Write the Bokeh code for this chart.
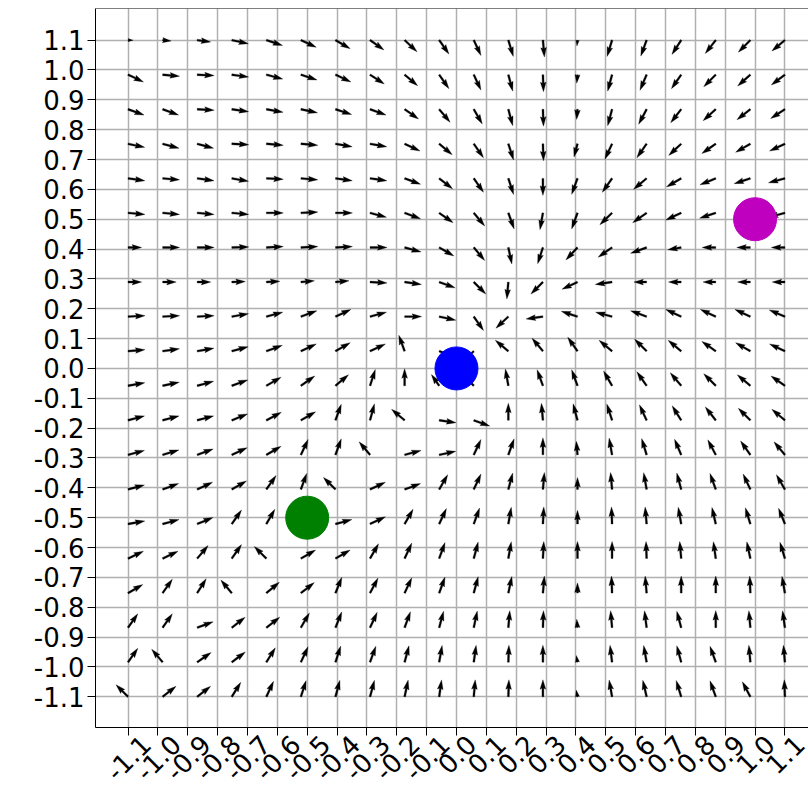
import numpy as np
from bokeh.plotting import figure
from bokeh.models import FixedTicker, Span, LinearAxis
from bokeh.embed import file_html
from bokeh.resources import INLINE

# arrow tail positions (20 x 20 grid)
grid_x = [-1.1, -0.9842, -0.8684, -0.7526, -0.6368, -0.5211, -0.4053, -0.2895, -0.1737, -0.0579,
          0.0579, 0.1737, 0.2895, 0.4053, 0.5211, 0.6368, 0.7526, 0.8684, 0.9842, 1.1]
grid_y = [1.1, 0.9842, 0.8684, 0.7526, 0.6368, 0.5211, 0.4053, 0.2895, 0.1737, 0.0579,
          -0.0579, -0.1737, -0.2895, -0.4053, -0.5211, -0.6368, -0.7526, -0.8684, -0.9842, -1.1]

# arrow directions in degrees (row = grid_y, column = grid_x)
angles_deg = [
    [0, -5, -8, -12, -18, -25, -30, -35, -43, -55, -65, -73, -85, -95, -107, -110, -123, -128, -135, -140],
    [-25, -5, -3, -8, -15, -18, -25, -33, -40, -55, -65, -75, -88, -95, -105, -113, -125, -135, -138, -143],
    [-20, -20, -3, -8, -10, -12, -18, -20, -35, -50, -60, -75, -88, -95, -105, -118, -128, -138, -142, -147],
    [-12, -15, -15, -3, -5, -5, -10, -10, -25, -40, -55, -72, -88, -105, -115, -125, -137, -145, -150, -155],
    [-8, -5, -8, -10, -3, -5, -8, -8, -20, -38, -55, -72, -90, -110, -125, -140, -150, -158, -162, -165],
    [-5, -5, -5, -5, 0, 3, 0, -15, -20, -35, -50, -70, -100, -110, -136, -145, -155, -162, -165, -165],
    [0, 0, 0, 2, 3, 3, 3, 0, -15, -30, -50, -78, -108, -133, -145, -160, -170, 180, 180, 180],
    [0, 0, 0, 2, 3, 5, 5, -3, -8, -20, -45, -95, -135, -155, -172, 180, 180, 180, 180, 180],
    [3, 3, 3, 10, 15, 20, 25, 15, 0, -12, -55, -137, -172, 162, 165, 160, 155, 155, 155, 157],
    [5, 8, 10, 15, 20, 25, 30, 25, 110, -20, -135, 140, 130, 125, 140, 135, 140, 145, 150, 155],
    [10, 12, 15, 20, 30, 35, 40, 72, 90, 125, 135, 100, 110, 110, 120, 125, 130, 135, 140, 145],
    [15, 15, 15, 22, 28, 30, 70, 75, 140, -8, -20, 90, 95, 105, 108, 115, 122, 128, 135, 140],
    [15, 17, 20, 25, 30, 65, 70, 130, 15, 12, 65, 70, 90, 95, 100, 107, 113, 118, 125, 130],
    [15, 20, 25, 30, 55, 70, 135, 25, 20, 60, 65, 75, 85, 90, 95, 100, 105, 110, 115, 120],
    [10, 15, 22, 55, 60, 45, 15, 25, 60, 65, 70, 80, 87, 90, 92, 95, 100, 103, 107, 112],
    [25, 25, 50, 55, 135, 30, 30, 60, 65, 70, 75, 80, 87, 90, 90, 92, 95, 98, 102, 107],
    [30, 55, 58, 130, 40, 38, 68, 62, 65, 70, 75, 78, 85, 90, 92, 95, 90, 90, 92, 100],
    [55, 55, 20, 38, 38, 60, 68, 65, 70, 75, 78, 85, 88, 95, 95, 97, 105, 90, 95, 98],
    [55, 130, 35, 37, 58, 65, 72, 70, 75, 80, 82, 88, 90, 100, 97, 100, 105, 110, 95, 95],
    [135, 38, 38, 58, 65, 72, 75, 75, 78, 82, 85, 88, 90, 100, 100, 103, 107, 110, 118, 92],
]

# relative arrow lengths
magnitudes = [
    [0.3, 0.5, 0.8, 1, 1, 1, 1, 1, 1, 1, 1, 1, 1, 0.35, 1, 1, 1, 1, 1, 1],
    [1, 1, 1, 1, 1, 1, 1, 1, 1, 1, 1, 1, 1, 0.5, 1, 1, 1, 1, 1, 1],
    [1, 1, 1, 1, 1, 1, 1, 1, 1, 1, 1, 1, 1, 0.6, 1, 1, 1, 1, 1, 1],
    [1, 1, 1, 1, 1, 1, 1, 1, 1, 1, 1, 1, 1, 0.8, 1, 1, 1, 1, 1, 1],
    [1, 1, 1, 1, 1, 1, 1, 1, 1, 1, 1, 1, 1, 1, 1, 1, 1, 1, 1, 1],
    [1, 1, 1, 1, 1, 1, 1, 1, 1, 1, 1, 1, 1, 1, 1, 1, 1, 1, 1, 1],
    [0.8, 1, 1, 1, 1, 1, 1, 1, 1, 1, 1, 1, 1, 1, 1, 1, 0.8, 0.8, 0.8, 0.8],
    [0.8, 0.8, 0.8, 0.8, 0.8, 0.8, 0.8, 1, 1, 1, 1, 1, 1, 1, 1, 0.75, 0.75, 0.75, 0.75, 0.75],
    [1, 1, 1, 1, 1, 1, 1, 1, 1, 1, 1, 1, 1, 1, 1, 1, 1, 1, 1, 1],
    [1, 1, 1, 1, 1, 1, 1, 1, 1, 1, 1, 1, 1, 1, 1, 1, 1, 1, 1, 1],
    [1, 1, 1, 1, 1, 1, 1, 1, 1, 0.8, 1, 1, 1, 1, 1, 1, 1, 1, 1, 1],
    [1, 1, 1, 1, 1, 1, 1, 1, 1, 1, 1, 1, 1, 1, 1, 1, 1, 1, 1, 1],
    [1, 1, 1, 1, 1, 1, 1, 1, 1, 1, 1, 1, 1, 0.8, 1, 1, 1, 1, 1, 1],
    [1, 1, 1, 1, 1, 1, 1, 1, 1, 1, 1, 1, 1, 0.7, 1, 1, 1, 1, 1, 1],
    [1, 1, 1, 1, 1, 1, 1, 1, 1, 1, 1, 1, 1, 0.8, 1, 1, 1, 1, 1, 1],
    [1, 1, 1, 1, 1, 1, 1, 1, 1, 1, 1, 1, 1, 1, 1, 1, 1, 1, 1, 1],
    [1, 1, 1, 1, 1, 1, 1, 1, 1, 1, 1, 1, 1, 0.6, 1, 1, 1, 1, 1, 1],
    [1, 1, 1, 1, 1, 1, 1, 1, 1, 1, 1, 1, 1, 0.5, 1, 1, 1, 1, 1, 1],
    [1, 1, 1, 1, 1, 1, 1, 1, 1, 1, 1, 1, 1, 0.4, 1, 1, 1, 1, 1, 1],
    [1, 1, 1, 1, 1, 1, 1, 1, 1, 1, 1, 1, 1, 0.4, 1, 1, 1, 1, 1, 1],
]

# the three marked points
points_x = [0.0, -0.5, 1.0]
points_y = [0.0, -0.5, 0.5]
points_color = ["#0000ff", "#008000", "#bf00bf"]

tick_values = [-1.1, -1.0, -0.9, -0.8, -0.7, -0.6, -0.5, -0.4, -0.3, -0.2, -0.1, 0.0,
               0.1, 0.2, 0.3, 0.4, 0.5, 0.6, 0.7, 0.8, 0.9, 1.0, 1.1]
tick_labels = ["-1.1", "-1.0", "-0.9", "-0.8", "-0.7", "-0.6", "-0.5", "-0.4", "-0.3", "-0.2", "-0.1", "0.0",
               "0.1", "0.2", "0.3", "0.4", "0.5", "0.6", "0.7", "0.8", "0.9", "1.0", "1.1"]

W_PX, H_PX = 808, 795
BORDER_L, BORDER_T, BORDER_B = 95, 8, 68
X_RANGE = (-1.209, 1.179)
Y_RANGE = (-1.203, 1.206)
FONT = "DejaVu Sans"
FS_PX = 26
FS = f"{FS_PX}px"

# ---- arrow polygons (quiver style, tail pivot) ----
L0 = 0.057      # data length of a unit arrow
W = 0.0064      # shaft width in data units
HW, HL, HAL = 3.0, 5.0, 4.5
xs, ys = [], []
for r, yv in enumerate(grid_y):
    for c, xv in enumerate(grid_x):
        ang = np.deg2rad(angles_deg[r][c])
        lu = L0 * magnitudes[r][c] / W
        shrink = 1.0
        if lu < HL:
            shrink = lu / HL
            lu = HL
        px = np.array([0, lu - HAL, lu - HL, lu, lu - HL, lu - HAL, 0]) * W * shrink
        py = np.array([0.5, 0.5, HW / 2, 0, -HW / 2, -0.5, -0.5]) * W * shrink
        ca, sa = np.cos(ang), np.sin(ang)
        xs.append(list(xv + px * ca - py * sa))
        ys.append(list(yv + px * sa + py * ca))

p = figure(width=W_PX, height=H_PX, x_range=X_RANGE, y_range=Y_RANGE,
           output_backend="svg", toolbar_location=None,
           min_border_left=BORDER_L, min_border_right=0, min_border_top=BORDER_T,
           min_border_bottom=BORDER_B)
p.outline_line_color = None

for ax in (p.xaxis[0], p.yaxis[0]):
    ax.ticker = FixedTicker(ticks=tick_values)
    ax.major_tick_out = 8
    ax.major_tick_in = 0
    ax.minor_tick_line_color = None
    ax.axis_line_color = "black"
    ax.major_tick_line_color = "black"
    ax.major_label_text_color = "black"
    ax.major_label_text_font = FONT
    ax.major_label_text_font_size = FS

p.yaxis.major_label_overrides = dict(zip(tick_values, tick_labels))
p.yaxis.major_label_standoff = 3
# bottom axis: tick marks only
p.xaxis.major_label_overrides = {v: "" for v in tick_values}
p.xaxis.major_label_standoff = 0

# rotated x tick labels, centred on their ticks (matplotlib style)
char_em = {"-": 0.361, ".": 0.318}
px_per_unit = (W_PX - BORDER_L) / (X_RANGE[1] - X_RANGE[0])
label_pos = []
for v, t in zip(tick_values, tick_labels):
    width_px = sum(char_em.get(ch, 0.636) for ch in t) * FS_PX
    label_pos.append(v + 0.3536 * width_px / px_per_unit)
lab_axis = LinearAxis(ticker=FixedTicker(ticks=label_pos),
                      major_label_overrides=dict(zip(label_pos, tick_labels)),
                      major_label_orientation=np.pi / 4,
                      axis_line_color=None, major_tick_line_color=None,
                      minor_tick_line_color=None, major_tick_out=0, major_tick_in=0,
                      major_label_standoff=4, major_label_text_font=FONT,
                      major_label_text_font_size=FS, major_label_text_color="black")
p.add_layout(lab_axis, "below")

p.grid.grid_line_color = "#b0b0b0"
p.grid.grid_line_width = 1.5

p.add_layout(Span(location=Y_RANGE[1], dimension="width", line_color="black", line_width=1.2))

p.patches(xs, ys, fill_color="black", line_color="black", line_width=0.3)

p.scatter(points_x, points_y, size=43, color=points_color)

open("out.html", "w").write(file_html(p, INLINE))
